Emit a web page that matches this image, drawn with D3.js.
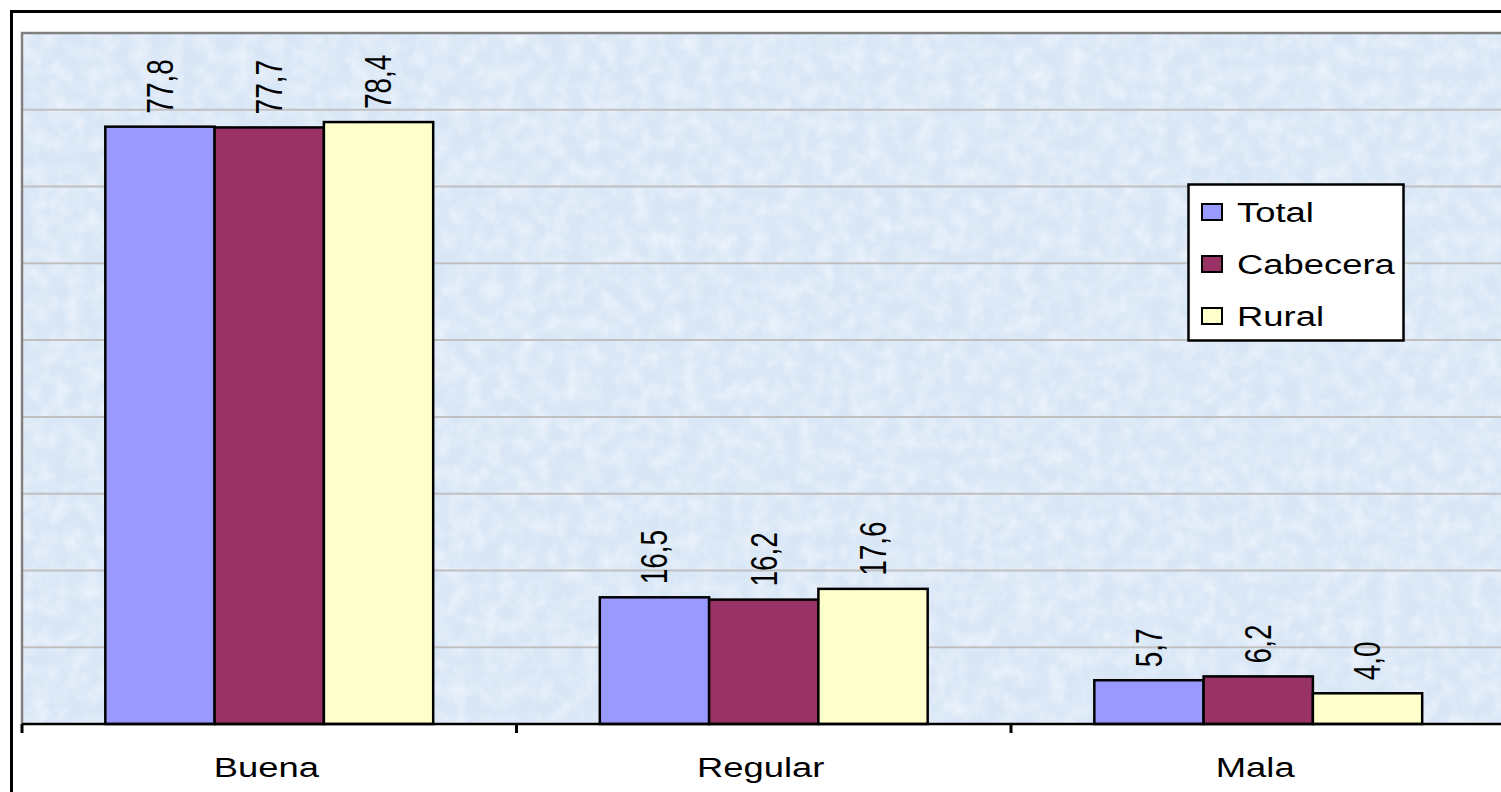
<!DOCTYPE html>
<html>
<head>
<meta charset="utf-8">
<script src="https://cdn.jsdelivr.net/npm/d3@7/dist/d3.min.js"></script>
<style>
  html, body { margin: 0; padding: 0; background: #ffffff; }
  svg { display: block; }
  text { font-family: "Liberation Sans", Arial, sans-serif; fill: #000; }
</style>
</head>
<body>
<script>
// ---- data ----
const categories = ["Buena", "Regular", "Mala"];
const seriesNames = ["Total", "Cabecera", "Rural"];
const totalValues = [77.8, 16.5, 5.7];
const cabeceraValues = [77.7, 16.2, 6.2];
const ruralValues = [78.4, 17.6, 4.0];
const gridTicks = [10, 20, 30, 40, 50, 60, 70, 80];
const seriesColors = ["#9999FF", "#993366", "#FFFFCC"];

const seriesValues = [totalValues, cabeceraValues, ruralValues];

const W = 1501, H = 792;
const plot = { left: 22, top: 33, right: 1505.5, bottom: 724 };
const stretch = 1.3;
const fontSize = 28;

const svg = d3.select("body").append("svg")
  .attr("width", W).attr("height", H);

// texture for plot background
const defs = svg.append("defs");
const filt = defs.append("filter").attr("id", "tex")
  .attr("x", 0).attr("y", 0).attr("width", "100%").attr("height", "100%");
filt.append("feTurbulence").attr("type", "fractalNoise")
  .attr("baseFrequency", "0.06").attr("numOctaves", 3).attr("seed", 4).attr("result", "n");
filt.append("feColorMatrix").attr("in", "n").attr("type", "matrix")
  .attr("values", "0 0 0 0 1  0 0 0 0 1  0 0 0 0 1  0 0 0 -1.6 1.05").attr("result", "w");
filt.append("feComposite").attr("in", "w").attr("in2", "SourceGraphic").attr("operator", "in");

// outer border
svg.append("rect")
  .attr("x", 11.5).attr("y", 11.5)
  .attr("width", W + 20).attr("height", H + 20)
  .attr("fill", "#fff").attr("stroke", "#000").attr("stroke-width", 3);

// scales
const x0 = d3.scaleBand().domain(categories)
  .range([plot.left, plot.right])
  .paddingInner(0.337).paddingOuter(0.337 / 2);
const x1 = d3.scaleBand().domain(seriesNames)
  .range([0, x0.bandwidth()]).padding(0);
const y = d3.scaleLinear().domain([0, 90]).range([plot.bottom, plot.top]);

// plot background
svg.append("rect")
  .attr("x", plot.left).attr("y", plot.top)
  .attr("width", plot.right - plot.left).attr("height", plot.bottom - plot.top)
  .attr("fill", "#d8e6f6");
svg.append("rect")
  .attr("x", plot.left).attr("y", plot.top)
  .attr("width", plot.right - plot.left).attr("height", plot.bottom - plot.top)
  .attr("fill", "#d8e6f6").attr("filter", "url(#tex)").attr("opacity", 0.55);

// gridlines
svg.append("g").selectAll("line").data(gridTicks).join("line")
  .attr("x1", plot.left).attr("x2", plot.right)
  .attr("y1", d => y(d)).attr("y2", d => y(d))
  .attr("stroke", "#c0c0c0").attr("stroke-width", 2);

// plot border top/left
svg.append("path")
  .attr("d", `M${plot.left},${plot.bottom} V${plot.top} H${plot.right}`)
  .attr("fill", "none").attr("stroke", "#808080").attr("stroke-width", 2.5);

// bars
const rows = [];
categories.forEach((c, i) => {
  seriesNames.forEach((s, j) => rows.push({ cat: c, ser: s, v: seriesValues[j][i], color: seriesColors[j] }));
});

svg.append("g").selectAll("rect").data(rows).join("rect")
  .attr("x", d => x0(d.cat) + x1(d.ser))
  .attr("y", d => y(d.v))
  .attr("width", x1.bandwidth())
  .attr("height", d => y(0) - y(d.v))
  .attr("fill", d => d.color)
  .attr("stroke", "#000").attr("stroke-width", 2.5);

// value labels
const fmt = v => d3.format(".1f")(v).replace(".", ",");
svg.append("g").selectAll("text").data(rows).join("text")
  .attr("transform", d => `translate(${x0(d.cat) + x1(d.ser) + x1.bandwidth() / 2},${y(d.v) - 13}) scale(${stretch},1) rotate(-90)`)
  .attr("dy", "0.35em")
  .attr("text-anchor", "start")
  .attr("font-size", fontSize)
  .text(d => fmt(d.v));

// x axis
const xAxisG = svg.append("g");
xAxisG.append("line")
  .attr("x1", plot.left).attr("x2", plot.right)
  .attr("y1", plot.bottom).attr("y2", plot.bottom)
  .attr("stroke", "#000").attr("stroke-width", 2.5);
const step = x0.step();
const boundaries = categories.map((c, i) => x0(c) - x0.paddingOuter() * step + 0);
xAxisG.selectAll("line.tick").data(categories).join("line").attr("class", "tick")
  .attr("x1", c => x0(c) - (step - x0.bandwidth()) / 2)
  .attr("x2", c => x0(c) - (step - x0.bandwidth()) / 2)
  .attr("y1", plot.bottom).attr("y2", plot.bottom + 9)
  .attr("stroke", "#000").attr("stroke-width", 3);
xAxisG.selectAll("text").data(categories).join("text")
  .attr("transform", c => `translate(${x0(c) + x0.bandwidth() / 2 - 3},777) scale(${stretch},1)`)
  .attr("text-anchor", "middle")
  .attr("font-size", fontSize)
  .text(c => c);

// legend
const lg = svg.append("g");
lg.append("rect")
  .attr("x", 1188.5).attr("y", 184.5).attr("width", 215).attr("height", 156)
  .attr("fill", "#fff").attr("stroke", "#000").attr("stroke-width", 2.5);
const items = lg.selectAll("g.item").data(seriesNames).join("g").attr("class", "item")
  .attr("transform", (d, i) => `translate(1202,${212 + i * 52})`);
items.append("rect")
  .attr("x", 0).attr("y", -8).attr("width", 20).attr("height", 16)
  .attr("fill", (d, i) => seriesColors[i])
  .attr("stroke", "#000").attr("stroke-width", 2);
items.append("text")
  .attr("transform", `translate(35,0) scale(${stretch},1)`)
  .attr("dy", "0.36em")
  .attr("font-size", fontSize)
  .text(d => d);
</script>
</body>
</html>
